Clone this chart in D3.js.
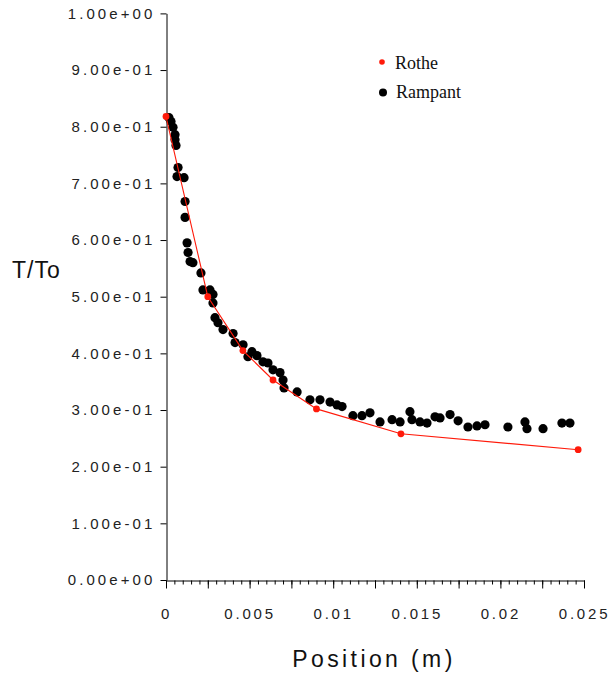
<!DOCTYPE html>
<html>
<head>
<meta charset="utf-8">
<script src="https://cdn.jsdelivr.net/npm/d3@7"></script>
<style>
  body { margin: 0; background: #fff; }
  svg { display: block; }
</style>
</head>
<body>
<svg id="chart" width="613" height="681"></svg>
<script>
// Rothe (analytical) values
var rotheX = [0, 0.0025, 0.0046, 0.0064, 0.0090, 0.01405, 0.02465];
var rotheY = [0.818, 0.500, 0.405, 0.353, 0.302, 0.258, 0.230];

// Rampant (simulation) values
var rampantX = [0.00018, 0.0003, 0.00042, 0.00054, 0.00054, 0.0006, 0.00072, 0.00066, 0.00108, 0.00114,
  0.00114, 0.00126, 0.00132, 0.00144, 0.00161, 0.00209, 0.00221, 0.00263, 0.00281, 0.00281,
  0.00293, 0.00311, 0.00341, 0.00401, 0.00413, 0.00461, 0.0049, 0.00514, 0.00544, 0.0058,
  0.0061, 0.0064, 0.00682, 0.007, 0.00706, 0.00784, 0.00861, 0.00921, 0.00981, 0.01023,
  0.01053, 0.01118, 0.01172, 0.0122, 0.0128, 0.01352, 0.0140, 0.01459, 0.01471, 0.01519,
  0.01561, 0.01609, 0.01639, 0.01699, 0.01747, 0.01806, 0.0186, 0.01908, 0.02045, 0.02147,
  0.02159, 0.02255, 0.02368, 0.02416];
var rampantY = [0.816, 0.809, 0.799, 0.786, 0.777, 0.767, 0.728, 0.712, 0.710, 0.668,
  0.640, 0.595, 0.578, 0.562, 0.560, 0.542, 0.512, 0.512, 0.504, 0.489,
  0.463, 0.454, 0.442, 0.435, 0.419, 0.415, 0.394, 0.403, 0.396, 0.385,
  0.383, 0.371, 0.366, 0.353, 0.339, 0.332, 0.318, 0.318, 0.314, 0.309,
  0.306, 0.290, 0.290, 0.295, 0.279, 0.283, 0.279, 0.297, 0.283, 0.279,
  0.277, 0.288, 0.286, 0.292, 0.281, 0.270, 0.272, 0.274, 0.270, 0.279,
  0.267, 0.267, 0.277, 0.277];

// tick labels
var yTicks = [0, 0.1, 0.2, 0.3, 0.4, 0.5, 0.6, 0.7, 0.8, 0.9, 1.0];
var yTickLabels = ["0.00e+00", "1.00e-01", "2.00e-01", "3.00e-01", "4.00e-01", "5.00e-01",
  "6.00e-01", "7.00e-01", "8.00e-01", "9.00e-01", "1.00e+00"];
var xTicks = [0, 0.005, 0.01, 0.015, 0.02, 0.025];
var xTickLabels = ["0", "0.005", "0.01", "0.015", "0.02", "0.025"];

const svg = d3.select("#chart");

const x = d3.scaleLinear().domain([0, 0.025]).range([166, 584]);
const y = d3.scaleLinear().domain([0, 1]).range([580, 13.4]);

const tickFont = "'Liberation Sans', Arial, sans-serif";

// minor ticks on x every 0.0005
const minorX = d3.range(0, 51).map(function (i) { return i * 0.0005; });
const majorX = d3.range(0, 11).map(function (i) { return i * 0.0025; });

svg.append("g")
  .attr("transform", "translate(0,580.5)")
  .call(d3.axisBottom(x).tickValues(minorX).tickSize(4).tickSizeOuter(0).tickFormat(""))
  .call(function (g) { g.selectAll("text").remove(); });

const xMajor = svg.append("g")
  .attr("transform", "translate(0,580.5)")
  .call(d3.axisBottom(x).tickValues(majorX).tickSize(8).tickSizeOuter(0).tickPadding(20)
    .tickFormat(function (d) {
      var i = xTicks.findIndex(function (t) { return Math.abs(t - d) < 1e-9; });
      return i >= 0 ? xTickLabels[i] : "";
    }));
xMajor.select(".domain").remove();
xMajor.selectAll("text")
  .style("font-family", tickFont)
  .style("font-size", "15px")
  .style("letter-spacing", "2.8px")
  .attr("fill", "#222");

const yAxis = svg.append("g")
  .attr("transform", "translate(166.5,0)")
  .call(d3.axisLeft(y).tickValues(yTicks).tickSize(6).tickSizeOuter(0).tickPadding(5)
    .tickFormat(function (d, i) { return yTickLabels[i]; }));
yAxis.selectAll("text")
  .style("font-family", tickFont)
  .style("font-size", "15px")
  .style("letter-spacing", "3.1px")
  .attr("fill", "#222");

svg.selectAll(".domain, .tick line").attr("stroke", "#000");

// axis titles
svg.append("text")
  .attr("x", 12).attr("y", 278)
  .style("font-family", tickFont)
  .style("font-size", "23px")
  .style("letter-spacing", "1px")
  .attr("fill", "#111")
  .text("T/To");

svg.append("text")
  .attr("x", 374).attr("y", 667)
  .attr("text-anchor", "middle")
  .style("font-family", tickFont)
  .style("font-size", "23px")
  .style("letter-spacing", "3.4px")
  .attr("fill", "#111")
  .text("Position (m)");

// Rampant points
svg.append("g")
  .selectAll("circle")
  .data(rampantX)
  .enter()
  .append("circle")
    .attr("cx", function (d) { return x(d); })
    .attr("cy", function (d, i) { return y(rampantY[i]); })
    .attr("r", 4.6)
    .attr("fill", "#000");

// Rothe line + points
const red = "#ff1a0a";
svg.append("path")
  .datum(rotheX)
  .attr("fill", "none")
  .attr("stroke", red)
  .attr("stroke-width", 1.1)
  .attr("d", d3.line()
    .x(function (d) { return x(d); })
    .y(function (d, i) { return y(rotheY[i]); }));

svg.append("g")
  .selectAll("circle")
  .data(rotheX)
  .enter()
  .append("circle")
    .attr("cx", function (d) { return x(d); })
    .attr("cy", function (d, i) { return y(rotheY[i]); })
    .attr("r", 3.4)
    .attr("fill", red);

// legend
const legend = svg.append("g");
legend.append("circle").attr("cx", 382).attr("cy", 62).attr("r", 2.8).attr("fill", red);
legend.append("circle").attr("cx", 383).attr("cy", 92.5).attr("r", 4).attr("fill", "#000");
legend.append("text")
  .attr("x", 395).attr("y", 68.5)
  .style("font-family", "'Liberation Serif', 'Times New Roman', serif")
  .style("font-size", "18px")
  .attr("fill", "#111")
  .text("Rothe");
legend.append("text")
  .attr("x", 396).attr("y", 97.5)
  .style("font-family", "'Liberation Serif', 'Times New Roman', serif")
  .style("font-size", "18px")
  .attr("fill", "#111")
  .text("Rampant");
</script>
</body>
</html>
